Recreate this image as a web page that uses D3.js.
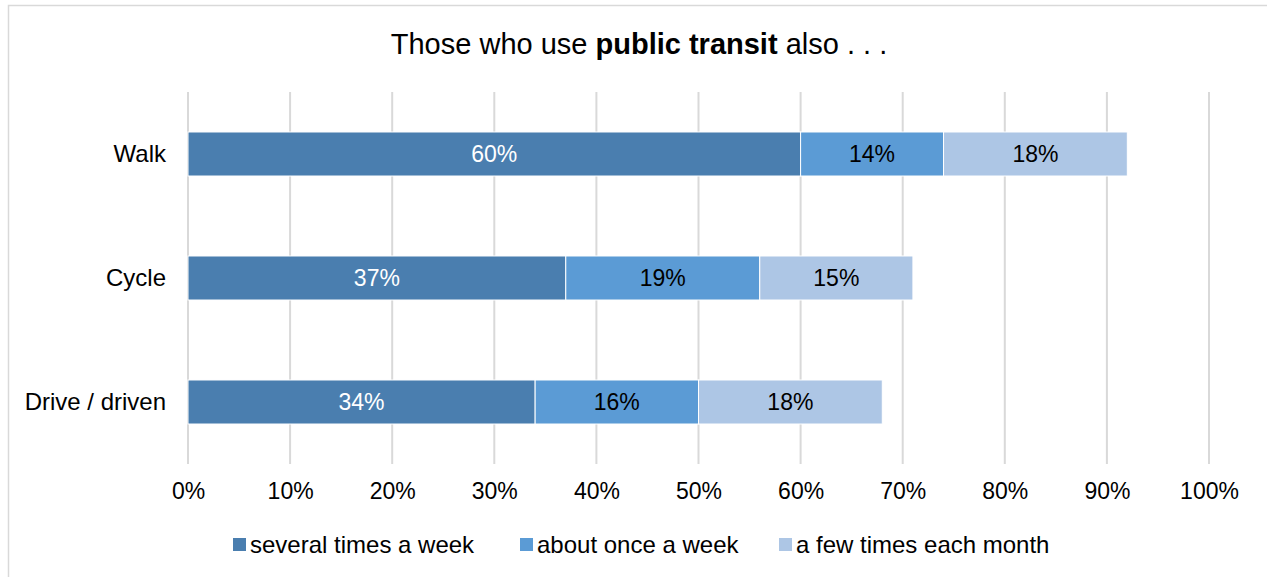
<!DOCTYPE html>
<html><head><meta charset="utf-8">
<script src="https://cdn.jsdelivr.net/npm/d3@7"></script>
<style>
body{margin:0;background:#fff;}
svg{font-family:"Liberation Sans",Arial,sans-serif;}
</style></head>
<body>
<svg id="chart" width="1267" height="577"></svg>
<script>
const categories = ["Walk", "Cycle", "Drive / driven"];
const seriesNames = ["several times a week", "about once a week", "a few times each month"];
const severalTimes = [60, 37, 34];
const onceAWeek = [14, 19, 16];
const fewTimesMonth = [18, 15, 18];
const tickValues = [0,10,20,30,40,50,60,70,80,90,100];
const colors = ["#4a7eaf", "#5b9bd5", "#adc6e5"];
const labelColors = ["#ffffff", "#000000", "#000000"];

const svg = d3.select("#chart");
svg.append("rect").attr("x",8.5).attr("y",5.5).attr("width",1300).attr("height",600)
  .attr("fill","#fff").attr("stroke","#d9d9d9").attr("stroke-width",1.5);

const x = d3.scaleLinear().domain([0,100]).range([188,1209]);
const y = d3.scaleBand().domain(categories).range([92,464]).paddingInner(0.645).paddingOuter(0.3225);

// gridlines
svg.append("g").selectAll("line").data(tickValues).join("line")
  .attr("x1",d=>x(d)).attr("x2",d=>x(d)).attr("y1",92).attr("y2",464)
  .attr("stroke","#d9d9d9").attr("stroke-width",2);

// x axis labels
const xAxis = d3.axisBottom(x).tickValues(tickValues).tickFormat(d=>d+"%").tickSize(0).tickPadding(0);
const gx = svg.append("g").attr("transform","translate(0,483)").call(xAxis);
gx.select(".domain").remove();
gx.selectAll("text").attr("font-size",23).attr("fill","#000").attr("dy","0.71em").attr("font-family","Liberation Sans, Arial, sans-serif");

// y axis labels
const yAxis = d3.axisLeft(y).tickSize(0).tickPadding(0);
const gy = svg.append("g").attr("transform","translate(166,0)").call(yAxis);
gy.select(".domain").remove();
gy.selectAll("text").attr("font-size",24).attr("fill","#000").attr("font-family","Liberation Sans, Arial, sans-serif");

const rows = categories.map((c,i)=>({cat:c, values:[severalTimes[i], onceAWeek[i], fewTimesMonth[i]]}));
const data = rows.map(r=>{const o={cat:r.cat}; seriesNames.forEach((s,j)=>o[s]=r.values[j]); return o;});
const stack = d3.stack().keys(seriesNames)(data);

const layers = svg.append("g").selectAll("g").data(stack).join("g");
layers.each(function(layer, li){
  const g = d3.select(this);
  g.selectAll("rect").data(layer).join("rect")
    .attr("x",d=>x(d[0])).attr("width",d=>x(d[1])-x(d[0]))
    .attr("y",d=>y(d.data.cat)).attr("height",y.bandwidth())
    .attr("fill",colors[li]).attr("stroke","#fff").attr("stroke-width",1);
  g.selectAll("text").data(layer).join("text")
    .attr("x",d=>(x(d[0])+x(d[1]))/2).attr("y",d=>y(d.data.cat)+y.bandwidth()/2)
    .attr("text-anchor","middle").attr("dy","0.35em").attr("font-size",23)
    .attr("fill",labelColors[li]).text(d=>(d[1]-d[0])+"%");
});

// title
const title = svg.append("text").attr("x",639).attr("y",54).attr("text-anchor","middle")
  .attr("font-size",29).attr("fill","#000");
title.append("tspan").text("Those who use ");
title.append("tspan").attr("font-weight","bold").text("public transit");
title.append("tspan").text(" also . . .");

// legend
const legendX = [233, 520, 779];
const lg = svg.append("g").selectAll("g").data(seriesNames).join("g")
  .attr("transform",(d,i)=>`translate(${legendX[i]},538)`);
lg.append("rect").attr("width",13).attr("height",13).attr("fill",(d,i)=>colors[i]);
lg.append("text").attr("x",17).attr("y",6.5).attr("dy","0.35em").attr("font-size",24).attr("fill","#000").text(d=>d);
</script>
</body></html>
